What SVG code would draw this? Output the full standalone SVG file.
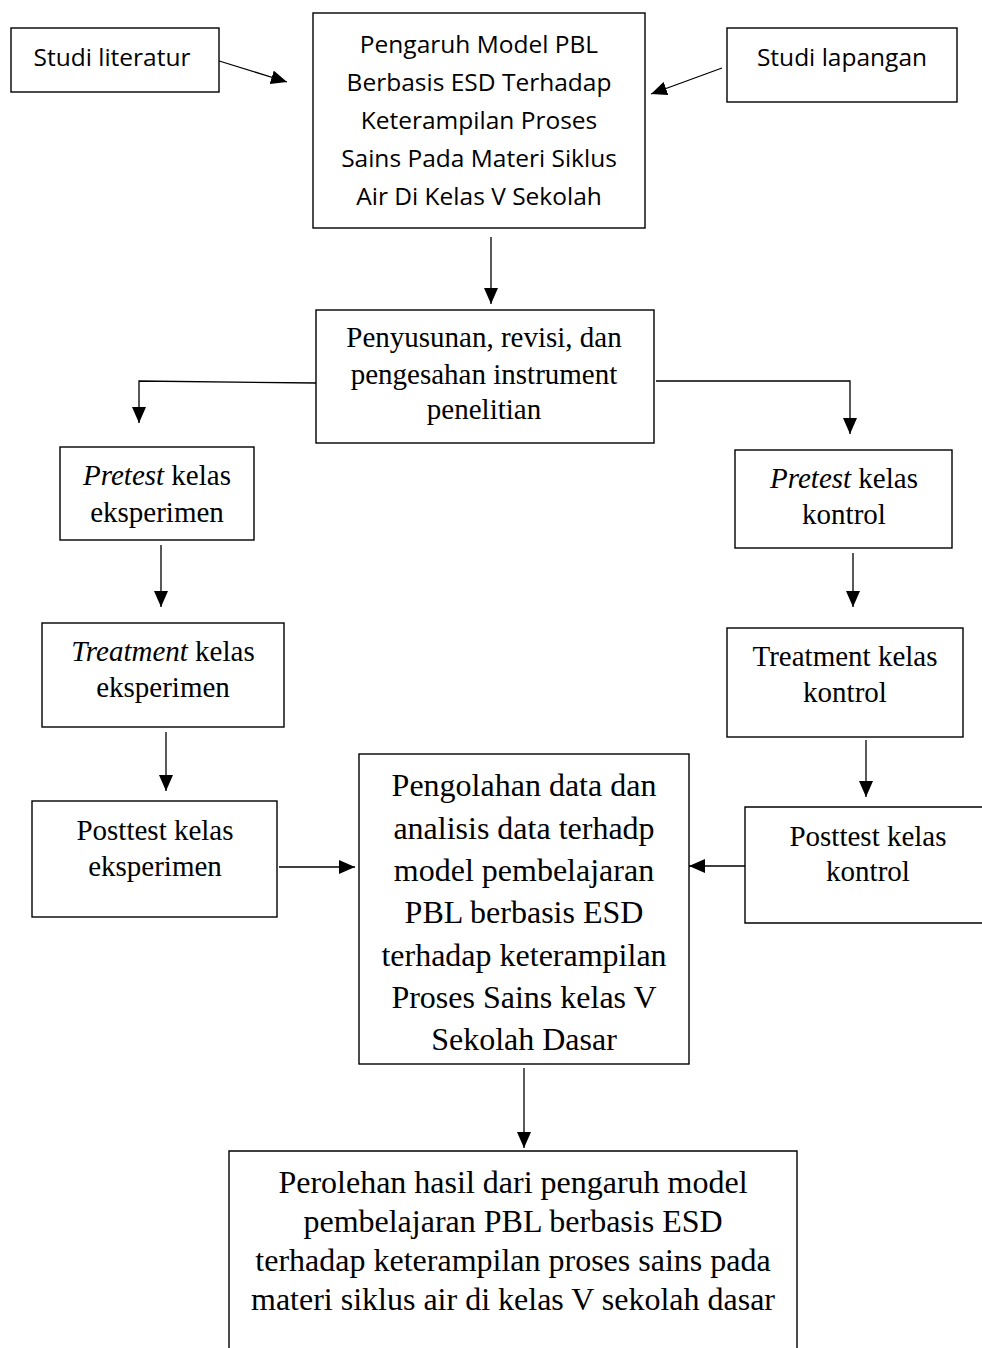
<svg xmlns="http://www.w3.org/2000/svg" width="982" height="1348" viewBox="0 0 982 1348">
<style>
.box{fill:#fff;stroke:#000;stroke-width:1.4}
.sans{font-family:"Open Sans","Noto Sans",sans-serif;font-size:24.5px;fill:#000;text-anchor:middle}
.serif{font-family:"Liberation Serif","Times New Roman",serif;fill:#000;text-anchor:middle}
.ln{fill:none;stroke:#000;stroke-width:1.3}
</style>
<defs>
<marker id="ah" markerWidth="16" markerHeight="14" refX="16" refY="7" orient="auto" markerUnits="userSpaceOnUse">
<path d="M0,0 L16,7 L0,14 Z" fill="#000"/>
</marker>
</defs>
<rect width="982" height="1348" fill="#fff"/>
<g id="connectors">
<line class="ln" x1="216" y1="60" x2="287" y2="82" marker-end="url(#ah)"/>
<line class="ln" x1="722" y1="68" x2="651" y2="94" marker-end="url(#ah)"/>
<line class="ln" x1="491" y1="237" x2="491" y2="304" marker-end="url(#ah)"/>
<polyline class="ln" points="316,383 139,381 139,423" marker-end="url(#ah)"/>
<polyline class="ln" points="656,381 850,381 850,434" marker-end="url(#ah)"/>
<line class="ln" x1="161" y1="545" x2="161" y2="607" marker-end="url(#ah)"/>
<line class="ln" x1="853" y1="553" x2="853" y2="607" marker-end="url(#ah)"/>
<line class="ln" x1="166" y1="732" x2="166" y2="791" marker-end="url(#ah)"/>
<line class="ln" x1="866" y1="740" x2="866" y2="797" marker-end="url(#ah)"/>
<line class="ln" x1="279" y1="867" x2="355" y2="867" marker-end="url(#ah)"/>
<line class="ln" x1="768" y1="866" x2="689" y2="866" marker-end="url(#ah)"/>
<line class="ln" x1="524" y1="1068" x2="524" y2="1148" marker-end="url(#ah)"/>
</g>
<g id="studi-literatur">
<rect class="box" x="11" y="28" width="208" height="64"/>
<text class="sans" x="112" y="66">Studi literatur</text>
</g>
<g id="judul">
<rect class="box" x="313" y="13" width="332" height="215"/>
<text class="sans" x="479" y="53">Pengaruh Model PBL</text>
<text class="sans" x="479" y="91">Berbasis ESD Terhadap</text>
<text class="sans" x="479" y="129">Keterampilan Proses</text>
<text class="sans" x="479" y="167">Sains Pada Materi Siklus</text>
<text class="sans" x="479" y="205">Air Di Kelas V Sekolah</text>
</g>
<g id="studi-lapangan">
<rect class="box" x="727" y="28" width="230" height="74"/>
<text class="sans" x="842" y="66">Studi lapangan</text>
</g>
<g id="penyusunan">
<rect class="box" x="316" y="310" width="338" height="133"/>
<text class="serif" font-size="29" x="484" y="347">Penyusunan, revisi, dan</text>
<text class="serif" font-size="29" x="484" y="384">pengesahan instrument</text>
<text class="serif" font-size="29" x="484" y="419">penelitian</text>
</g>
<g id="pretest-eksperimen">
<rect class="box" x="60" y="447" width="194" height="93"/>
<text class="serif" font-size="29" x="157" y="485"><tspan font-style="italic">Pretest</tspan> kelas</text>
<text class="serif" font-size="29" x="157" y="522">eksperimen</text>
</g>
<g id="pretest-kontrol">
<rect class="box" x="735" y="450" width="217" height="98"/>
<text class="serif" font-size="29" x="844" y="488"><tspan font-style="italic">Pretest</tspan> kelas</text>
<text class="serif" font-size="29" x="844" y="524">kontrol</text>
</g>
<g id="treatment-eksperimen">
<rect class="box" x="42" y="623" width="242" height="104"/>
<text class="serif" font-size="29" x="163" y="661"><tspan font-style="italic">Treatment</tspan> kelas</text>
<text class="serif" font-size="29" x="163" y="697">eksperimen</text>
</g>
<g id="treatment-kontrol">
<rect class="box" x="727" y="628" width="236" height="109"/>
<text class="serif" font-size="29" x="845" y="666">Treatment kelas</text>
<text class="serif" font-size="29" x="845" y="702">kontrol</text>
</g>
<g id="posttest-eksperimen">
<rect class="box" x="32" y="801" width="245" height="116"/>
<text class="serif" font-size="29" x="155" y="840">Posttest kelas</text>
<text class="serif" font-size="29" x="155" y="876">eksperimen</text>
</g>
<g id="posttest-kontrol">
<path class="box" d="M982,807 L745,807 L745,923 L982,923"/>
<text class="serif" font-size="29" x="868" y="846">Posttest kelas</text>
<text class="serif" font-size="29" x="868" y="881">kontrol</text>
</g>
<g id="pengolahan">
<rect class="box" x="359" y="754" width="330" height="310"/>
<text class="serif" font-size="32" x="524" y="796">Pengolahan data dan</text>
<text class="serif" font-size="32" x="524" y="839">analisis data terhadp</text>
<text class="serif" font-size="32" x="524" y="881">model pembelajaran</text>
<text class="serif" font-size="32" x="524" y="923">PBL berbasis ESD</text>
<text class="serif" font-size="32" x="524" y="966">terhadap keterampilan</text>
<text class="serif" font-size="32" x="524" y="1008">Proses Sains kelas V</text>
<text class="serif" font-size="32" x="524" y="1050">Sekolah Dasar</text>
</g>
<g id="perolehan">
<path class="box" d="M229,1349 L229,1151 L797,1151 L797,1349"/>
<text class="serif" font-size="32" x="513" y="1193">Perolehan hasil dari pengaruh model</text>
<text class="serif" font-size="32" x="513" y="1232">pembelajaran PBL berbasis ESD</text>
<text class="serif" font-size="32" x="513" y="1271">terhadap keterampilan proses sains pada</text>
<text class="serif" font-size="32" x="513" y="1310">materi siklus air di kelas V sekolah dasar</text>
</g>
</svg>
